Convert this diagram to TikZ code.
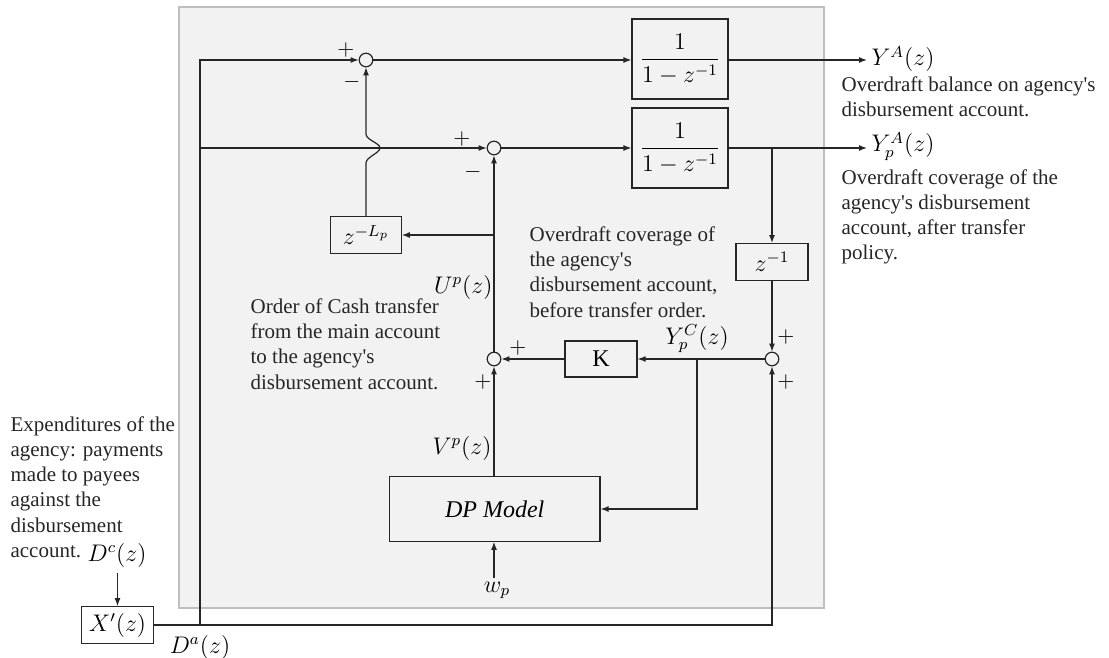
\documentclass[tikz,border=0pt]{standalone}
\usepackage{fontspec}
\setmainfont{Liberation Serif}
\usetikzlibrary{arrows.meta}
\newcommand{\apo}{\textquotesingle}
\begin{document}
\begin{tikzpicture}[x=0.5pt,y=-0.5pt,
  line width=0.6pt, draw=black!85,
  >={Latex[length=4pt,width=3pt]},
  blk/.style={draw=black!85, inner sep=0pt, font=\fontsize{12}{14}\selectfont},
  sumj/.style={circle, draw=black!85, inner sep=0pt, minimum size=6.8pt},
  txt/.style={align=left, inner sep=0pt, anchor=west, text=black!85, font=\fontsize{10.5}{12.6}\selectfont},
  lbl/.style={inner sep=0pt, font=\fontsize{12}{14}\selectfont},
  sgn/.style={inner sep=0pt, font=\fontsize{11}{13}\selectfont}
]
\useasboundingbox (0,0) rectangle (1109,658);
% background panel
\path[fill=black!5, draw=black!25, line width=0.6pt] (179,7) rectangle (824,608);

% junctions
\node[sumj] (s1) at (366,60) {};
\node[sumj] (s2) at (494,148) {};
\node[sumj] (s3) at (494,359) {};
\node[sumj] (s4) at (772,359) {};

% blocks
\node[blk, minimum width=48pt, minimum height=40pt] (b1) at (680,59) {$\displaystyle\frac{1}{1-z^{-1}}$};
\node[blk, minimum width=48pt, minimum height=40pt] (b2) at (680,148) {$\displaystyle\frac{1}{1-z^{-1}}$};
\node[blk, minimum width=35.3pt, minimum height=18.3pt] (zL) at (366,235) {$z^{-L_p}$};
\node[blk, minimum width=36pt, minimum height=18.4pt] (z1) at (772,262) {$z^{-1}$};
\node[blk, minimum width=36pt, minimum height=18pt] (K) at (601,359) {K};
\node[blk, minimum width=105.3pt, minimum height=32.2pt] (DP) at (494.7,509) {\itshape DP Model};
\node[blk, minimum width=35.8pt, minimum height=18.3pt] (X) at (117.5,625) {$X'(z)$};

% coordinates
\coordinate (jA) at (200,625);
\coordinate (j2) at (200,148);
\coordinate (j3) at (772,148);
\coordinate (j4) at (697,359);
\coordinate (j5) at (494,235);
\coordinate (o1) at (867,60);
\coordinate (o2) at (867,148);
\coordinate (wp) at (494,578);
\coordinate (dc) at (117.5,573);

% connectors
\draw[->] (jA) |- (s1);
\draw[->] (j2) -- (s2);
\draw[->] (s1) -- (b1.west |- s1);
\draw[->] (s2) -- (b2.west |- s2);
\draw[->] (b1.east |- o1) -- (o1);
\draw[->] (b2.east |- o2) -- (o2);
\draw[->] (j3) -- (z1);
\draw[->] (z1) -- (s4);
\draw[->] (s4) -- (K);
\draw[->] (K) -- (s3);
\draw[->] (j4) |- (DP);
\draw[->] (DP.north -| s3) -- (s3);
\draw[->] (wp) -- (DP.south -| wp);
\draw[->] (s3) -- (s2);
\draw[->] (j5) -- (zL);
\draw[->] (zL.north) -- (366,163) .. controls (366,157) and (380,153) .. (380,148)
  .. controls (380,143) and (366,140) .. (366,134) -- (s1.south);
\draw[->] (X) -| (s4);
\draw[->] (dc) -- (X);

% signs
\node[sgn] at (346,50) {$+$};
\node[sgn] at (352,82) {$-$};
\node[sgn] at (462,139) {$+$};
\node[sgn] at (473,172) {$-$};
\node[sgn] at (518,348) {$+$};
\node[sgn] at (483,382) {$+$};
\node[sgn] at (786,337) {$+$};
\node[sgn] at (786,382) {$+$};

% signal labels
\node[lbl, anchor=base west] (lYA) at (871,66) {$Y^{A}(z)$};
\node[lbl, anchor=base west] (lYpA) at (871,152) {$Y_p^{A}(z)$};
\node[lbl, anchor=base] (lYpC) at (697,344) {$Y_p^{C}(z)$};
\node[lbl, anchor=base east] (lUp) at (493,293) {$U^{p}(z)$};
\node[lbl, anchor=base east] (lVp) at (492,454) {$V^{p}(z)$};
\node[lbl, anchor=base] (lDc) at (117,561) {$D^{c}(z)$};
\node[lbl, anchor=base] (lDa) at (200,653) {$D^{a}(z)$};
\node[lbl, anchor=base] (lwp) at (497,592) {$w_p$};

% descriptive texts
\node[txt] (t1) at (841,97) {Overdraft balance on agency\apo s\\disbursement account.};
\node[txt] (t2) at (841,217) {Overdraft coverage of the\\agency\apo s disbursement\\account, after transfer\\policy.};
\node[txt] (t3) at (529,272) {Overdraft coverage of\\the agency\apo s\\disbursement account,\\before transfer order.};
\node[txt] (t4) at (250,344) {Order of Cash transfer\\from the main account\\to the agency\apo s\\disbursement account.};
\node[txt] (t5) at (10,487) {Expenditures of the\\agency: payments\\made to payees\\against the\\disbursement\\account.};
\end{tikzpicture}
\end{document}
